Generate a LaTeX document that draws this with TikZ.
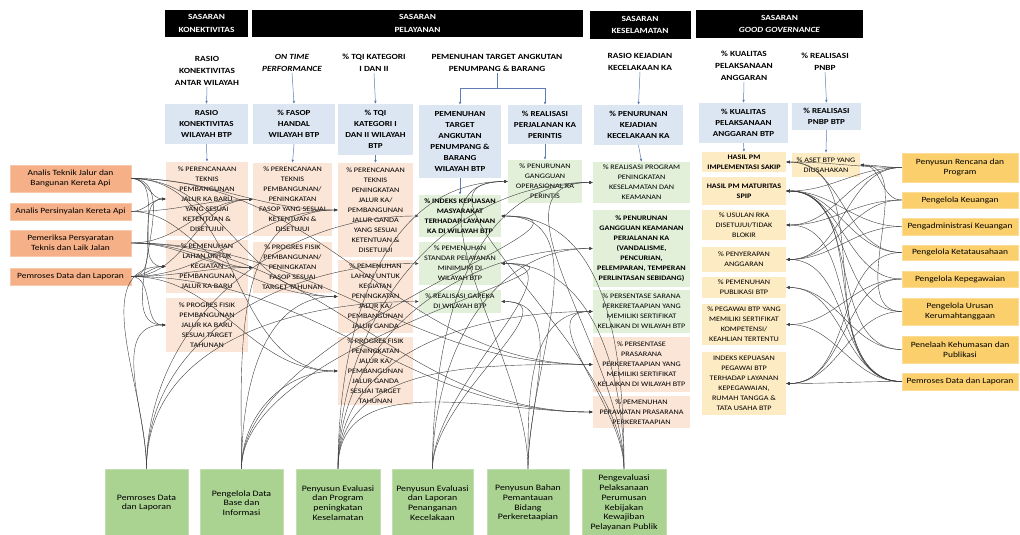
\documentclass[tikz,border=0pt]{standalone}
\usepackage{fontspec}
\setmainfont{Carlito}[FakeStretch=1.18]
\usetikzlibrary{arrows.meta}

\definecolor{kpiblue}{RGB}{220,230,242}
\definecolor{indorange}{RGB}{251,229,214}
\definecolor{indgreen}{RGB}{226,240,217}
\definecolor{indyellow}{RGB}{253,235,195}
\definecolor{rolesalmon}{RGB}{245,176,135}
\definecolor{rolegold}{RGB}{250,207,108}
\definecolor{rolegreen}{RGB}{170,210,145}
\definecolor{arrblue}{RGB}{95,125,180}

\begin{document}
\begin{tikzpicture}[x=1pt, y=-1pt,
  sz/.style 2 args={minimum width=#1pt, minimum height=#2pt},
  hdr/.style={fill=black, text=white, inner sep=0pt, align=center, font=\fontsize{7.9}{12.5}\selectfont\bfseries},
  ttl/.style={inner sep=1pt, align=center, font=\fontsize{7.9}{12.3}\selectfont\bfseries},
  kpi/.style={fill=kpiblue, inner sep=0pt, align=center, font=\fontsize{7.7}{11}\selectfont\bfseries},
  ind/.style={inner sep=0pt, align=center, font=\fontsize{6.9}{10}\selectfont},
  indb/.style={inner sep=0pt, align=center, font=\fontsize{6.9}{10}\selectfont\bfseries},
  ora/.style={fill=indorange},
  grn/.style={fill=indgreen},
  ylw/.style={fill=indyellow},
  roleL/.style={fill=rolesalmon, draw=rolesalmon!70!white, inner sep=0pt, align=center, font=\fontsize{8}{10}\selectfont},
  roleR/.style={fill=rolegold, draw=rolegold!70!white, inner sep=0pt, align=center, font=\fontsize{8}{10}\selectfont},
  roleB/.style={fill=rolegreen, draw=rolegreen!70!white, inner sep=0pt, align=center, font=\fontsize{8.3}{9.8}\selectfont},
  down/.style={draw=arrblue, line width=0.5pt, -{Latex[length=3pt,width=2.6pt]}},
  link/.style={draw=black!75, line width=0.4pt, -{Latex[length=3.5pt,width=3pt]}},
  fromL/.style={link, out=0, in=180},
  fromR/.style={link, out=180, in=0},
  upW/.style={link, out=90, in=180},
  upE/.style={link, out=90, in=0}
]

\useasboundingbox (0,0) rectangle (1020,535);
\fill[white] (0,0) rectangle (1020,535);

% Sasaran headers
\node[hdr, sz={83}{27}]  (hK) at (206.5,23.5) {SASARAN\\KONEKTIVITAS};
\node[hdr, sz={331}{27}] (hP) at (417.5,23.5) {SASARAN\\PELAYANAN};
\node[hdr, sz={101}{28}] (hS) at (640,25)     {SASARAN\\KESELAMATAN};
\node[hdr, sz={167}{28}] (hG) at (779.5,24)   {SASARAN\\\textit{GOOD GOVERNANCE}};

% Sasaran strategis titles
\node[ttl] (tRK)   at (207,71)   {RASIO\\KONEKTIVITAS\\ANTAR WILAYAH};
\node[ttl] (tOTP)  at (292,63)   {\textit{ON TIME}\\\textit{PERFORMANCE}};
\node[ttl] (tTQI)  at (374,63)   {\% TQI KATEGORI\\I DAN II};
\node[ttl] (tPT)   at (497,63)   {PEMENUHAN TARGET ANGKUTAN\\PENUMPANG \& BARANG};
\node[ttl] (tRKK)  at (640,62)   {RASIO KEJADIAN\\KECELAKAAN KA};
\node[ttl] (tKPA)  at (744,66)   {\% KUALITAS\\PELAKSANAAN\\ANGGARAN};
\node[ttl] (tPNBP) at (825,62)   {\% REALISASI\\PNBP};

% IKU wilayah BTP
\node[kpi, sz={83}{40}] (kRK)   at (206.5,124) {RASIO\\KONEKTIVITAS\\WILAYAH BTP};
\node[kpi, sz={82}{40}] (kFH)   at (294,124)   {\% FASOP\\HANDAL\\WILAYAH BTP};
\node[kpi, sz={75}{51}] (kTQI)  at (375.5,129.5) {\% TQI\\KATEGORI I\\DAN II WILAYAH\\BTP};
\node[kpi, sz={82}{73}] (kPT)   at (460,141.5) {PEMENUHAN\\TARGET\\ANGKUTAN\\PENUMPANG \&\\BARANG\\WILAYAH BTP};
\node[kpi, sz={74}{39}] (kRP)   at (545,124.5) {\% REALISASI\\PERJALANAN KA\\PERINTIS};
\node[kpi, sz={89}{40}] (kPK)   at (638.5,125) {\% PENURUNAN\\KEJADIAN\\KECELAKAAN KA};
\node[kpi, sz={89}{40}] (kKPA)  at (743.5,123) {\% KUALITAS\\PELAKSANAAN\\ANGGARAN BTP};
\node[kpi, sz={69}{27}] (kPNBP) at (826.5,116.5) {\% REALISASI\\PNBP BTP};

% Konektivitas indicators
\node[ind, ora, sz={82}{74}] (a1) at (207,199)   {\% PERENCANAAN\\TEKNIS\\PEMBANGUNAN\\JALUR KA BARU\\YANG SESUAI\\KETENTUAN \&\\DISETUJUI};
\node[ind, ora, sz={82}{53}] (a2) at (207,266.5) {\% PEMENUHAN\\LAHAN UNTUK\\KEGIATAN\\PEMBANGUNAN\\JALUR KA BARU};
\node[ind, ora, sz={82}{54}] (a3) at (207,325)   {\% PROGRES FISIK\\PEMBANGUNAN\\JALUR KA BARU\\SESUAI TARGET\\TAHUNAN};

% Pelayanan indicators
\node[ind, ora, sz={79}{73}] (b1) at (292.5,199.5) {\% PERENCANAAN\\TEKNIS\\PEMBANGUNAN/\\PENINGKATAN\\FASOP YANG SESUAI\\KETENTUAN \&\\DISETUJUI};
\node[ind, ora, sz={79}{51}] (b2) at (292.5,267.5) {\% PROGRES FISIK\\PEMBANGUNAN/\\PENINGKATAN\\FASOP SESUAI\\TARGET TAHUNAN};
\node[ind, ora, sz={75}{94}] (c1) at (375.5,210)   {\% PERENCANAAN\\TEKNIS\\PENINGKATAN\\JALUR KA/\\PEMBANGUNAN\\JALUR GANDA\\YANG SESUAI\\KETENTUAN \&\\DISETUJUI};
\node[ind, ora, sz={75}{73}] (c2) at (375.5,296.5) {\% PEMENUHAN\\LAHAN UNTUK\\KEGIATAN\\PENINGKATAN\\JALUR KA/\\PEMBANGUNAN\\JALUR GANDA};
\node[ind, ora, sz={75}{68}] (c3) at (375.5,371)   {\% PROGRES FISIK\\PENINGKATAN\\JALUR KA/\\PEMBANGUNAN\\JALUR GANDA\\SESUAI TARGET\\TAHUNAN};
\node[indb, grn, sz={82}{42}] (d1) at (460,216)   {\% INDEKS KEPUASAN\\MASYARAKAT\\TERHADAP LAYANAN\\KA DI WILAYAH BTP};
\node[ind, grn, sz={82}{43}]  (d2) at (460,263.5) {\% PEMENUHAN\\STANDAR PELAYANAN\\MINIMUM DI\\WILAYAH BTP};
\node[ind, grn, sz={82}{23}]  (d3) at (460,301.5) {\% REALISASI GAPEKA\\DI WILAYAH BTP};
\node[ind, grn, sz={74}{43}]  (e1) at (545,181.5) {\% PENURUNAN\\GANGGUAN\\OPERASIONAL KA\\PERINTIS};

% Keselamatan indicators
\node[ind, grn, sz={97}{41}]  (f1) at (641.5,182.5) {\% REALISASI PROGRAM\\PENINGKATAN\\KESELAMATAN DAN\\KEAMANAN};
\node[indb, grn, sz={97}{77}] (f2) at (641.5,248.5) {\% PENURUNAN\\GANGGUAN KEAMANAN\\PERJALANAN KA\\(VANDALISME,\\PENCURIAN,\\PELEMPARAN, TEMPERAN\\PERLINTASAN SEBIDANG)};
\node[ind, grn, sz={97}{43}]  (f3) at (641.5,311.5) {\% PERSENTASE SARANA\\PERKERETAAPIAN YANG\\MEMILIKI SERTIFIKAT\\KELAIKAN DI WILAYAH BTP};
\node[ind, ora, sz={97}{55}]  (f4) at (641.5,364.5) {\% PERSENTASE\\PRASARANA\\PERKERETAAPIAN YANG\\MEMILIKI SERTIFIKAT\\KELAIKAN DI WILAYAH BTP};
\node[ind, ora, sz={97}{32}]  (f5) at (641.5,412)   {\% PEMENUHAN\\PERAWATAN PRASARANA\\PERKERETAAPIAN};

% Good governance indicators
\node[indb, ylw, sz={84}{20}] (g1) at (744,162)   {HASIL PM\\IMPLEMENTASI SAKIP};
\node[indb, ylw, sz={84}{28}] (g2) at (744,191)   {HASIL PM MATURITAS\\SPIP};
\node[ind, ylw, sz={84}{30}]  (g3) at (744,225)   {\% USULAN RKA\\DISETUJUI/TIDAK\\BLOKIR};
\node[ind, ylw, sz={84}{25}]  (g4) at (744,259.5) {\% PENYERAPAN\\ANGGARAN};
\node[ind, ylw, sz={84}{21}]  (g5) at (744,287.5) {\% PEMENUHAN\\PUBLIKASI BTP};
\node[ind, ylw, sz={84}{41}]  (g6) at (744,324.5) {\% PEGAWAI BTP YANG\\MEMILIKI SERTIFIKAT\\KOMPETENSI/\\KEAHLIAN TERTENTU};
\node[ind, ylw, sz={84}{63}]  (g7) at (744,383.5) {INDEKS KEPUASAN\\PEGAWAI BTP\\TERHADAP LAYANAN\\KEPEGAWAIAN,\\RUMAH TANGGA \&\\TATA USAHA BTP};
\node[ind, ylw, sz={68}{24}]  (h1) at (826,165)   {\% ASET BTP YANG\\DIUSAHAKAN};

% Jabatan, left
\node[roleL, sz={121}{27}] (l1) at (70.5,178.5) {Analis Teknik Jalur dan\\Bangunan Kereta Api};
\node[roleL, sz={121}{17}] (l2) at (70.5,211.5) {Analis Persinyalan Kereta Api};
\node[roleL, sz={121}{26}] (l3) at (70.5,243)   {Pemeriksa Persyaratan\\Teknis dan Laik Jalan};
\node[roleL, sz={121}{17}] (l4) at (70.5,276.5) {Pemroses Data dan Laporan};

% Jabatan, right
\node[roleR, sz={116}{29}] (r1) at (960,167.5) {Penyusun Rencana dan\\Program};
\node[roleR, sz={116}{16}] (r2) at (960,200)   {Pengelola Keuangan};
\node[roleR, sz={116}{17}] (r3) at (960,226.5) {Pengadministrasi Keuangan};
\node[roleR, sz={116}{15}] (r4) at (960,252.5) {Pengelola Ketatausahaan};
\node[roleR, sz={116}{16}] (r5) at (960,279)   {Pengelola Kepegawaian};
\node[roleR, sz={116}{27}] (r6) at (960,311.5) {Pengelola Urusan\\Kerumahtanggaan};
\node[roleR, sz={116}{27}] (r7) at (960,349.5) {Penelaah Kehumasan dan\\Publikasi};
\node[roleR, sz={116}{17}] (r8) at (960,381.5) {Pemroses Data dan Laporan};

% Jabatan, bottom
\node[roleB, sz={83}{68}] (m1) at (146.5,503) {Pemroses Data\\dan Laporan};
\node[roleB, sz={83}{68}] (m2) at (241.5,503) {Pengelola Data\\Base dan\\Informasi};
\node[roleB, sz={84}{68}] (m3) at (338,503)   {Penyusun Evaluasi\\dan Program\\peningkatan\\Keselamatan};
\node[roleB, sz={81}{68}] (m4) at (432.5,503) {Penyusun Evaluasi\\dan Laporan\\Penanganan\\Kecelakaan};
\node[roleB, sz={82}{68}] (m5) at (528,503)   {Penyusun Bahan\\Pemantauan\\Bidang\\Perkeretaapian};
\node[roleB, sz={84}{68}] (m6) at (624,503)   {Pengevaluasi\\Pelaksanaan\\Perumusan\\Kebijakan\\Kewajiban\\Pelayanan Publik};

% Cascading arrows
\draw[down] (tRK.south) -- (kRK.north);
\draw[down] (tOTP.south) -- (kFH.north);
\draw[down] (tTQI.south) -- (kTQI.north);
\coordinate (fork) at (497,88);
\draw[draw=arrblue, line width=0.5pt] (tPT.south) -- (fork);
\draw[down] (fork) -| (kPT.north);
\draw[down] (fork) -| (kRP.north);
\draw[down] (tRKK.south) -- (kPK.north);
\draw[down] (tKPA.south) -- (kKPA.north);
\draw[down] (tPNBP.south) -- (kPNBP.north);

\draw[down] (kRK.south) -- (a1.north);
\draw[down] (kFH.south) -- (b1.north);
\draw[down] (kTQI.south) -- (c1.north);
\draw[down] (kPT.south) -- (d1.north);
\draw[down] (kRP.south) -- (e1.north);
\draw[down] (kPK.south) -- (f1.north);
\draw[down] (kKPA.south) -- (g1.north);
\draw[down] (kPNBP.south) -- (h1.north);

% Left jabatan to indicators
\path (l1.east) edge[fromL] (a1.west) edge[fromL] (a2.west) edge[fromL] (a3.west)
  edge[fromL] (c1.west) edge[fromL] (c2.west) edge[fromL] (c3.west) edge[fromL] (f4.west);
\path (l2.east) edge[fromL] (a1.west) edge[fromL] (b1.west) edge[fromL] (b2.west);
\path (l3.east) edge[fromL] (b1.west) edge[fromL] (b2.west) edge[fromL] (c2.west)
  edge[fromL] (f4.west) edge[fromL] (f5.west);
\path (l4.east) edge[fromL] (a1.west) edge[fromL] (a2.west) edge[fromL] (a3.west)
  edge[fromL] (b1.west) edge[fromL] (b2.west) edge[fromL] (c1.west) edge[fromL] (c3.west)
  edge[fromL] (f5.west);

% Bottom jabatan to indicators
\path (m1.north) edge[upW] (a2.west) edge[upW] (a3.west) edge[upW] (d1.west)
  edge[upW] (d2.west) edge[upW] (d3.west);
\path (m2.north) edge[upW] (c1.west) edge[upW] (c2.west) edge[upW] (c3.west)
  edge[upE] (d1.east) edge[upE] (d2.east);
\path (m3.north) edge[upW] (f1.west) edge[upW] (f2.west) edge[upW] (f3.west)
  edge[upW] (f4.west) edge[upW] (f5.west) edge[upW] (e1.west);
\path (m4.north) edge[upW] (f1.west) edge[upW] (f2.west) edge[upE] (d2.east) edge[upE] (d3.east);
\path (m5.north) edge[upE] (d1.east) edge[upE] (d3.east) edge[upW] (e1.west) edge[upW] (f3.west);
\path (m6.north) edge[upE] (d1.east) edge[upE] (d2.east) edge[upW] (e1.west)
  edge[upW] (f1.west) edge[upW] (f3.west);

% Right jabatan to indicators
\path (r1.west) edge[fromR] (g1.east) edge[fromR] (g2.east) edge[fromR] (g3.east)
  edge[fromR] (g4.east) edge[fromR] (h1.east);
\path (r2.west) edge[fromR] (g3.east) edge[fromR] (g4.east) edge[fromR] (h1.east);
\path (r3.west) edge[fromR] (g2.east) edge[fromR] (g4.east);
\path (r4.west) edge[fromR] (g1.east) edge[fromR] (g2.east) edge[fromR] (g7.east);
\path (r5.west) edge[fromR] (g2.east) edge[fromR] (g6.east) edge[fromR] (g7.east);
\path (r6.west) edge[fromR] (g2.east) edge[fromR] (g7.east) edge[fromR] (h1.east);
\path (r7.west) edge[fromR] (g2.east) edge[fromR] (g5.east);
\path (r8.west) edge[fromR] (g1.east) edge[fromR] (g2.east) edge[fromR] (g3.east)
  edge[fromR] (g4.east) edge[fromR] (g5.east) edge[fromR] (g6.east) edge[fromR] (g7.east);

\end{tikzpicture}
\end{document}
